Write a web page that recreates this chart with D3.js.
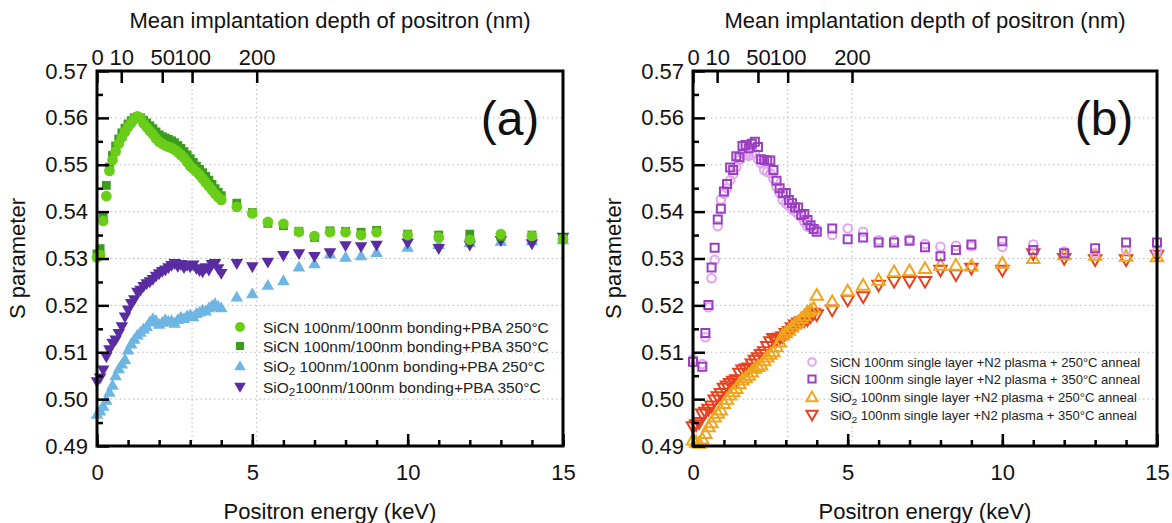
<!DOCTYPE html>
<html>
<head>
  <title>S parameter vs positron energy</title>
  <script src="https://d3js.org/d3.v7.min.js"></script>
  <style>
    body { margin: 0; background: #fff; font-family: "Liberation Sans", Arial, sans-serif; }
    .tick text { font-family: "Liberation Sans", Arial, sans-serif; font-size: 22px; fill: #111; }
    .tick line { stroke: #000; stroke-width: 2.5; }
    .grid line { stroke: #b8b8b8; stroke-width: 1; stroke-dasharray: 1.5,3; }
    .axis-title { font-size: 22px; fill: #111; text-anchor: middle; }
    .legend text { fill: #222; }
  </style>
</head>
<body>
  <div id="chart"></div>
  <script>
    // shared energy grid (keV)
    const energy = [0,0.1,0.2,0.3,0.4,0.5,0.6,0.7,0.8,0.9,1.0,1.1,1.2,1.3,1.4,1.5,1.6,1.7,1.8,1.9,
      2.0,2.1,2.2,2.3,2.4,2.5,2.6,2.7,2.8,2.9,3.0,3.1,3.2,3.3,3.4,3.5,3.6,3.7,3.8,3.9,4.0,
      4.5,5,5.5,6,6.5,7,7.5,8,8.5,9,10,11,12,13,14,15];

    // panel (a)
    const sicnA250 = [0.5302,0.5307,0.5380,0.5433,0.5487,0.5510,0.5528,0.5545,0.5558,0.5570,
      0.5580,0.5589,0.5597,0.5603,0.5598,0.5588,0.5580,0.5572,0.5565,0.5556,
      0.5549,0.5545,0.5541,0.5538,0.5536,0.5532,0.5527,0.5521,0.5515,0.5506,
      0.5497,0.5491,0.5485,0.5478,0.5470,0.5462,0.5454,0.5446,0.5438,0.5431,
      0.5425,
      0.5410,0.5396,0.5378,0.5374,0.5357,0.5348,0.5356,0.5356,0.5350,0.5356,
      0.5350,0.5345,0.5340,0.5352,0.5348,0.5341];
    const sicnA350 = [0.5310,0.5321,0.5390,0.5456,0.5495,0.5520,0.5540,0.5555,0.5568,0.5578,
      0.5587,0.5594,0.5600,0.5602,0.5600,0.5595,0.5589,0.5583,0.5577,0.5570,
      0.5564,0.5560,0.5557,0.5554,0.5551,0.5547,0.5541,0.5535,0.5528,0.5521,
      0.5513,0.5505,0.5497,0.5490,0.5483,0.5475,0.5467,0.5458,0.5449,0.5441,
      0.5434,
      0.5418,0.5398,0.5375,0.5370,0.5358,0.5345,0.5359,0.5358,0.5356,0.5360,
      0.5352,0.5350,0.5352,0.5347,0.5350,0.5343];
    const sio2A250 = [0.4968,0.4975,0.4985,0.4998,0.5015,0.5030,0.5050,0.5065,0.5075,0.5085,
      0.5105,0.5118,0.5128,0.5137,0.5143,0.5150,0.5155,0.5165,0.5172,0.5168,
      0.5160,0.5164,0.5170,0.5166,0.5168,0.5162,0.5170,0.5175,0.5172,0.5178,
      0.5180,0.5176,0.5183,0.5186,0.5190,0.5188,0.5195,0.5200,0.5204,0.5198,
      0.5195,
      0.5218,0.5225,0.5243,0.5253,0.5282,0.5289,0.5310,0.5303,0.5306,0.5313,
      0.5324,0.5330,0.5334,0.5337,0.5338,0.5340];
    const sio2A350 = [0.5037,0.5045,0.5062,0.5090,0.5105,0.5119,0.5126,0.5140,0.5154,0.5175,
      0.5190,0.5204,0.5212,0.5228,0.5232,0.5240,0.5246,0.5250,0.5255,0.5262,
      0.5267,0.5272,0.5275,0.5280,0.5285,0.5289,0.5283,0.5287,0.5280,0.5285,
      0.5282,0.5286,0.5278,0.5274,0.5271,0.5280,0.5275,0.5287,0.5289,0.5278,
      0.5268,
      0.5289,0.5282,0.5292,0.5306,0.5310,0.5304,0.5312,0.5327,0.5325,0.5328,
      0.5333,0.5321,0.5328,0.5338,0.5331,0.5345];

    // panel (b)
    const sicnB250 = [0.5085,null,null,0.5075,0.5132,0.5196,0.5258,0.5297,0.5369,0.5426,
      0.5438,0.5450,0.5467,0.5480,0.5495,0.5510,0.5524,0.5522,0.5519,0.5522,
      0.5524,0.5512,0.5503,0.5489,0.5485,0.5482,0.5470,0.5453,0.5440,0.5425,
      0.5418,0.5412,0.5405,0.5400,0.5395,0.5389,0.5378,0.5368,0.5366,0.5364,
      0.5362,
      0.5350,0.5364,0.5357,0.5339,0.5339,0.5341,0.5331,0.5325,0.5327,0.5326,
      0.5325,0.5330,0.5315,0.5311,0.5318,0.5316];
    const sicnB350 = [0.5080,null,null,0.5069,0.5141,0.5201,0.5281,0.5323,0.5383,0.5406,
      0.5443,0.5459,0.5494,0.5489,0.5518,0.5516,0.5540,0.5542,0.5535,0.5545,
      0.5549,0.5538,0.5512,0.5510,0.5509,0.5509,0.5489,0.5466,0.5450,0.5439,
      0.5440,0.5425,0.5418,0.5409,0.5409,0.5393,0.5395,0.5382,0.5371,0.5363,
      0.5357,
      0.5364,0.5341,0.5345,0.5334,0.5334,0.5338,0.5324,0.5305,0.5318,0.5330,
      0.5337,0.5318,0.5311,0.5322,0.5334,0.5334];
    const sio2B250 = [0.4913,0.4908,0.4906,0.4915,0.4927,0.4941,0.4950,0.4962,0.4970,0.4977,
      0.4991,0.5000,0.5009,0.5016,0.5023,0.5033,0.5041,0.5046,0.5051,0.5058,
      0.5066,0.5070,0.5073,0.5082,0.5090,0.5096,0.5101,0.5112,0.5122,0.5137,
      0.5142,0.5147,0.5154,0.5160,0.5165,0.5172,0.5178,0.5186,0.5190,0.5194,
      0.5222,
      0.5208,0.5231,0.5243,0.5254,0.5272,0.5274,0.5279,0.5286,0.5286,0.5284,
      0.5290,0.5300,0.5308,0.5307,0.5305,0.5304];
    const sio2B350 = [0.4941,0.4945,0.4950,0.4968,0.4972,0.4978,0.4985,0.4998,0.5005,0.5012,
      0.5023,0.5028,0.5033,0.5038,0.5041,0.5055,0.5062,0.5064,0.5066,0.5075,
      0.5083,0.5088,0.5095,0.5101,0.5112,0.5122,0.5129,0.5126,0.5130,0.5133,
      0.5140,0.5144,0.5152,0.5158,0.5162,0.5165,0.5167,0.5169,0.5176,0.5183,
      0.5180,
      0.5190,0.5211,0.5218,0.5243,0.5251,0.5251,0.5251,0.5275,0.5265,0.5279,
      0.5275,0.5310,0.5300,0.5297,0.5297,0.5307];

    // axes
    const xMajor = [0, 5, 10, 15];
    const yMajor = [0.49, 0.50, 0.51, 0.52, 0.53, 0.54, 0.55, 0.56, 0.57];
    const depthLabels = ["0", "10", "50", "100", "200"];
    const depthEnergy = [0, 0.78, 2.1, 3.06, 5.14];   // where each depth tick sits on the energy axis

    const W = 1172, H = 523;
    const svg = d3.select("#chart").append("svg").attr("width", W).attr("height", H);

    function drawPanel(p) {
      const x = d3.scaleLinear().domain([0, 15]).range([p.left, p.right]);
      const y = d3.scaleLinear().domain([0.49, 0.57]).range([p.bottom, p.top]);
      const g = svg.append("g");

      // dotted grid
      const grid = g.append("g").attr("class", "grid");
      grid.selectAll("line.h").data(yMajor.slice(1, -1)).join("line")
        .attr("x1", p.left).attr("x2", p.right)
        .attr("y1", d => y(d)).attr("y2", d => y(d));
      grid.selectAll("line.v").data(depthEnergy.slice(3)).join("line")
        .attr("x1", d => x(d)).attr("x2", d => x(d))
        .attr("y1", p.top).attr("y2", p.bottom);

      const styleMark = (sel, s) => sel
        .attr("fill", s.open ? "none" : s.color)
        .attr("stroke", s.open ? s.color : "none")
        .attr("stroke-width", s.open ? 2 : 0);

      // markers, in drawing order
      p.draw.forEach(k => {
        const s = p.series[k];
        const pts = energy.map((e, i) => [e, s.values[i]]).filter(d => d[1] != null);
        g.append("g").selectAll("path").data(pts).join("path")
          .attr("d", d3.symbol().type(s.type).size(s.size))
          .attr("transform", d => `translate(${x(d[0])},${y(d[1]) + (s.dy || 0)})` + (s.flip ? " rotate(180)" : ""))
          .call(styleMark, s);
      });

      // bottom axis
      g.append("g").attr("transform", `translate(0,${p.bottom})`)
        .call(d3.axisBottom(x).tickValues(d3.range(0, 16, 1)).tickSize(-6).tickFormat(""))
        .call(a => a.select(".domain").remove());
      g.append("g").attr("transform", `translate(0,${p.bottom})`)
        .call(d3.axisBottom(x).tickValues(xMajor).tickSize(-12).tickPadding(18).tickFormat(d3.format("d")))
        .call(a => a.select(".domain").remove());

      // left axis
      g.append("g").attr("transform", `translate(${p.left},0)`)
        .call(d3.axisLeft(y).tickValues(d3.range(0, 8).map(i => 0.495 + i * 0.01)).tickSize(-6).tickFormat(""))
        .call(a => a.select(".domain").remove());
      g.append("g").attr("transform", `translate(${p.left},0)`)
        .call(d3.axisLeft(y).tickValues(yMajor).tickSize(-12).tickPadding(9).tickFormat(d3.format(".2f")))
        .call(a => a.select(".domain").remove());

      // top axis: implantation depth
      g.append("g").attr("transform", `translate(0,${p.top})`)
        .call(d3.axisTop(x).tickValues(depthEnergy).tickSize(-12).tickPadding(6)
          .tickFormat((d, i) => depthLabels[i]))
        .call(a => a.select(".domain").remove());

      // frame
      g.append("rect")
        .attr("x", p.left).attr("y", p.top)
        .attr("width", p.right - p.left).attr("height", p.bottom - p.top)
        .attr("fill", "none").attr("stroke", "#000").attr("stroke-width", 3);

      // titles
      g.append("text").attr("class", "axis-title")
        .attr("x", (p.left + p.right) / 2).attr("y", 28)
        .text("Mean implantation depth of positron (nm)");
      g.append("text").attr("class", "axis-title")
        .attr("x", (p.left + p.right) / 2).attr("y", 519)
        .text("Positron energy (keV)");
      g.append("text").attr("class", "axis-title")
        .attr("transform", `translate(${p.left - 72},${(p.top + p.bottom) / 2}) rotate(-90)`)
        .text("S parameter");
      g.append("text")
        .attr("x", p.right - 53).attr("y", 135)
        .attr("text-anchor", "middle").attr("font-size", 48).attr("fill", "#111")
        .text(p.tag);

      // legend
      const lg = g.append("g").attr("class", "legend");
      p.series.forEach((s, i) => {
        const ly = p.legend.y[i];
        lg.append("path")
          .attr("d", d3.symbol().type(s.type).size(s.size * p.legend.ms))
          .attr("transform", `translate(${p.legend.mx},${ly + (s.dy || 0)})` + (s.flip ? " rotate(180)" : ""))
          .call(styleMark, s);
        const t = lg.append("text")
          .attr("x", p.legend.tx).attr("y", ly + p.legend.fs * 0.36)
          .attr("font-size", p.legend.fs);
        s.label.forEach(part => {
          const ts = t.append("tspan").text(part.t);
          if (part.sub) ts.attr("baseline-shift", "-25%").attr("font-size", p.legend.fs * 0.75);
        });
      });
    }

    drawPanel({
      tag: "(a)", left: 97, right: 563, top: 71, bottom: 446,
      legend: { mx: 240, tx: 263, fs: 15.5, ms: 0.85, y: [327, 346, 366, 387] },
      draw: [2, 3, 1, 0],
      series: [
        { values: sicnA250, type: d3.symbolCircle, size: 90, color: "#6acd1a",
          label: [{ t: "SiCN 100nm/100nm bonding+PBA 250°C" }] },
        { values: sicnA350, type: d3.symbolSquare, size: 78, color: "#3c9c1c",
          label: [{ t: "SiCN 100nm/100nm bonding+PBA 350°C" }] },
        { values: sio2A250, type: d3.symbolTriangle, size: 68, color: "#6db5e2", dy: 1,
          label: [{ t: "SiO" }, { t: "2", sub: true }, { t: " 100nm/100nm bonding+PBA 250°C" }] },
        { values: sio2A350, type: d3.symbolTriangle, size: 68, color: "#5a2ca2", flip: true, dy: -1,
          label: [{ t: "SiO" }, { t: "2", sub: true }, { t: "100nm/100nm bonding+PBA 350°C" }] }
      ]
    });

    drawPanel({
      tag: "(b)", left: 693, right: 1157, top: 71, bottom: 446,
      legend: { mx: 812, tx: 830, fs: 13, ms: 0.8, y: [362, 379, 397, 415] },
      draw: [3, 2, 0, 1],
      series: [
        { values: sicnB250, type: d3.symbolCircle, size: 58, color: "#e2a4ef", open: true,
          label: [{ t: "SiCN 100nm single layer +N2 plasma + 250°C anneal" }] },
        { values: sicnB350, type: d3.symbolSquare, size: 64, color: "#9a3fc2", open: true,
          label: [{ t: "SiCN 100nm single layer +N2 plasma + 350°C  anneal" }] },
        { values: sio2B250, type: d3.symbolTriangle, size: 66, color: "#efa51e", open: true, dy: 1,
          label: [{ t: "SiO" }, { t: "2", sub: true }, { t: " 100nm single layer +N2 plasma + 250°C anneal" }] },
        { values: sio2B350, type: d3.symbolTriangle, size: 66, color: "#e8411e", open: true, flip: true, dy: -1,
          label: [{ t: "SiO" }, { t: "2", sub: true }, { t: " 100nm single layer +N2 plasma + 350°C anneal" }] }
      ]
    });
  </script>
</body>
</html>
